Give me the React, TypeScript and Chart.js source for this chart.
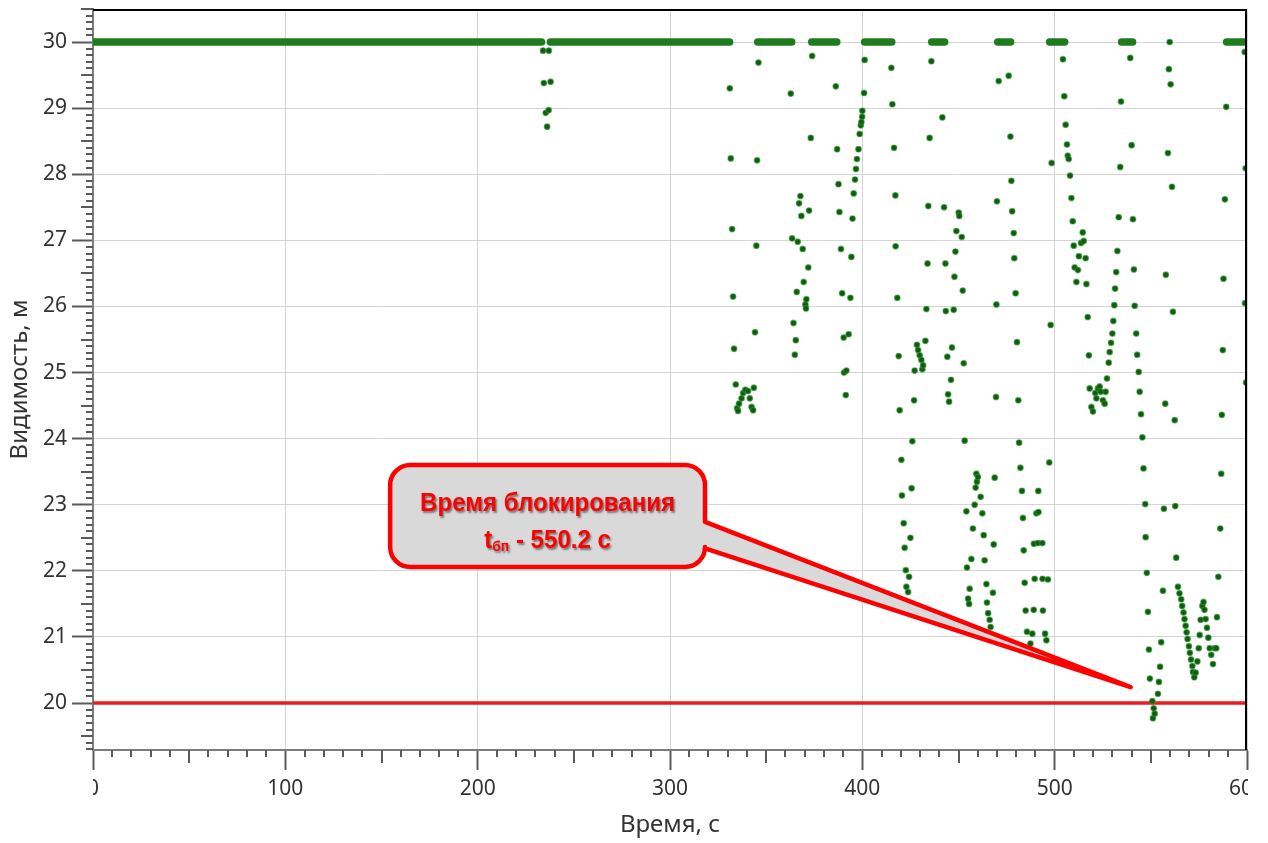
import React, { useEffect, useRef } from 'react';
import { Chart, registerables } from 'chart.js';

Chart.register(...registerables);

// ---------- data ----------
const xTickValues = [0, 100, 200, 300, 400, 500, 600];
const xTickLabels = ['0', '100', '200', '300', '400', '500', '600'];
const yTickValues = [20, 21, 22, 23, 24, 25, 26, 27, 28, 29, 30];
const yTickLabels = ['20', '21', '22', '23', '24', '25', '26', '27', '28', '29', '30'];

const xTitle = 'Время, с';
const yTitle = 'Видимость, м';

// stretches of time where the visibility stays at the 30 m ceiling
const plateauStart = [0, 237.8, 345.6, 373.7, 401.2, 436.1, 470.4, 497.4, 534.8, 589.4];
const plateauEnd = [233.2, 331.0, 363.3, 386.7, 415.3, 442.8, 477.1, 505.2, 540.5, 600];
const plateauLevel = 30;

// critical visibility threshold
const thresholdTime = [0, 600];
const thresholdLevel = [20, 20];

// individual samples
const sampleTime = [
  234.0, 237.0, 234.4, 237.9, 235.4, 236.9, 236.1,
  331.1, 331.6, 332.3, 332.8, 333.3, 334.2, 334.9, 335.4, 335.9, 337.2, 338.0, 339.2, 340.6, 341.5, 342.4, 343.2, 343.6, 344.2, 344.9, 345.3, 346.0,
  362.8, 363.5, 364.2, 364.9, 365.4, 365.9, 366.4, 367.1, 367.8, 368.3, 369.0, 369.5, 370.4, 370.7, 370.9, 371.9, 372.3, 373.2, 373.9,
  386.2, 386.9, 387.6, 388.1, 388.9, 389.5, 390.3, 390.5, 391.4, 391.7, 392.9, 393.8, 394.3, 394.9, 395.5, 396.2, 396.7, 397.2, 398.0, 398.6, 399.2, 399.5, 399.9, 400.0, 400.9, 401.2,
  415.1, 415.6, 416.5, 417.2, 417.3, 418.2, 418.9, 419.4, 420.3, 420.6, 421.5, 422.0, 422.6, 422.9, 423.8, 424.3, 425.0, 425.6, 426.0, 426.9,
  427.2, 428.4, 429.0, 429.8, 430.7, 431.2, 431.6, 432.8, 433.3, 433.9, 434.3, 435.0, 435.9,
  441.6, 442.5, 443.2, 443.4, 444.2, 444.6, 445.1, 446.1, 446.6, 447.5, 447.9, 448.4, 448.9, 450.1, 450.4, 451.7, 452.2, 452.7, 453.2,
  454.1, 454.4, 455.0, 455.5, 455.8, 456.7, 457.5, 458.4, 458.9, 459.3, 459.6, 460.1, 461.5, 462.4, 463.1, 463.6, 464.5, 464.8, 465.4, 466.2, 466.7,
  467.9, 468.3, 468.8, 469.5, 469.7, 470.0, 470.9,
  476.1, 477.0, 477.5, 477.9, 478.7, 479.0, 479.7, 480.4, 481.1, 481.5, 482.2, 483.0, 483.5, 483.9, 484.4, 484.9, 485.6, 487.4, 488.4,
  489.1, 489.2, 489.6, 490.5, 491.3, 491.5, 491.6, 493.6, 493.7, 493.9, 495.0, 495.7, 496.5, 497.2, 497.9, 498.4,
  504.3, 505.0, 505.7, 506.4, 506.8, 507.3, 508.0, 508.7, 509.4, 509.9, 510.4, 511.3, 512.1, 512.6, 513.7, 514.6, 515.1, 516.1, 516.5, 517.2, 517.8,
  518.2, 519.1, 519.9, 521.1, 521.7, 522.5, 523.4, 524.0, 525.1, 526.0, 526.5,
  527.2, 528.1, 528.6, 529.3, 530.0, 530.5, 531.0, 531.4, 532.0, 532.6, 533.3, 534.1, 534.5,
  539.3, 540.0, 540.7, 541.2, 541.6, 542.4, 542.9, 543.7, 544.2, 544.9, 545.6, 546.2, 547.1, 547.3, 547.9, 548.5, 549.0, 549.5,
  550.8, 551.1, 551.5, 552.0, 553.7, 554.2, 554.8, 555.4, 556.3, 556.8, 557.5, 557.8, 558.9, 559.4, 559.8, 560.3, 561.0, 561.5, 562.4, 562.7, 563.2,
  564.1, 564.9, 565.8, 566.3, 567.0, 567.5, 568.1, 568.6, 569.1, 569.8, 570.3, 570.9, 571.6, 571.9, 572.6, 573.3, 574.2, 574.9, 575.4, 575.9,
  576.8, 577.4, 577.9, 578.5, 579.2, 579.9, 580.6, 581.4, 582.3, 583.2, 584.0, 584.4, 585.1, 586.1, 586.6, 586.9, 587.4, 587.8, 588.5, 589.2,
  598.8, 599.0, 599.3, 599.5,
];
const sampleVisibility = [
  29.87, 29.87, 29.38, 29.40, 28.93, 28.97, 28.72,
  29.30, 28.24, 27.17, 26.15, 25.36, 24.82, 24.46, 24.42, 24.53, 24.61, 24.69, 24.74, 24.72, 24.61, 24.48, 24.43, 24.77, 25.61, 26.92, 28.21, 29.69,
  29.22, 27.03, 25.75, 25.27, 25.49, 26.22, 26.98, 27.56, 27.67, 27.37, 26.87, 26.37, 26.03, 25.97, 26.11, 26.59, 27.45, 28.55, 29.79,
  29.33, 28.38, 27.85, 27.43, 26.87, 26.20, 25.53, 25.00, 24.66, 25.03, 25.58, 26.13, 26.75, 27.33, 27.71, 27.92, 28.08, 28.23, 28.38, 28.61, 28.74, 28.79, 28.87, 28.96, 29.23, 29.73,
  29.61, 29.06, 28.40, 27.68, 26.91, 26.13, 25.25, 24.43, 23.68, 23.14, 22.72, 22.35, 22.01, 21.76, 21.68, 21.91, 22.50, 23.25, 23.96, 24.58,
  25.03, 25.42, 25.34, 25.26, 25.19, 25.05, 25.11, 25.48, 25.96, 26.65, 27.52, 28.55, 29.71,
  28.86, 27.50, 26.65, 25.93, 25.24, 24.67, 24.56, 24.89, 25.38, 25.95, 26.45, 26.83, 27.14, 27.42, 27.37, 27.05, 26.24, 25.14, 23.97,
  22.90, 22.05, 21.58, 21.50, 21.73, 22.18, 22.64, 23.00, 23.26, 23.47, 23.35, 23.42, 23.12, 22.87, 22.54, 22.16, 21.80, 21.52, 21.36, 21.26, 21.15,
  21.67, 22.40, 23.41, 24.63, 26.03, 27.59, 29.41,
  29.49, 28.57, 27.90, 27.44, 27.11, 26.73, 26.20, 25.46, 24.58, 23.94, 23.56, 23.21, 22.80, 22.31, 21.82, 21.40, 21.08, 20.90, 21.05,
  21.41, 22.41, 21.88, 22.87, 22.42, 23.21, 22.89, 22.42, 21.88, 21.40, 21.05, 20.95, 21.87, 23.64, 25.72, 28.17,
  29.74, 29.18, 28.75, 28.45, 28.28, 28.23, 27.98, 27.64, 27.29, 26.92, 26.59, 26.37, 26.55, 26.76, 26.96, 27.12, 26.99, 26.73, 26.34, 25.84, 25.26,
  24.76, 24.48, 24.41, 24.69, 24.61, 24.76, 24.79, 24.71, 24.58, 24.53, 24.71,
  24.91, 25.15, 25.31, 25.45, 25.59, 25.78, 26.02, 26.27, 26.52, 26.84, 27.35, 28.11, 29.10,
  29.76, 28.44, 27.32, 26.56, 26.01, 25.59, 25.27, 25.01, 24.71, 24.37, 24.02, 23.55, 23.01, 22.51, 21.97, 21.38, 20.81, 20.37,
  20.03, 19.77, 19.92, 19.84, 20.14, 20.32, 20.55, 20.92, 21.70, 22.94, 24.53, 26.48, 28.32, 29.59, 30.00, 29.36, 27.81, 25.92, 24.28, 22.98, 22.20,
  21.76, 21.66, 21.57, 21.47, 21.37, 21.27, 21.17, 21.07, 20.97, 20.86, 20.76, 20.66, 20.56, 20.47, 20.39, 20.46, 20.63, 20.83, 21.03, 21.26,
  21.47, 21.53, 21.41, 21.27, 21.14, 20.99, 20.83, 20.73, 20.59, 20.83, 20.83, 21.30, 21.91, 22.64, 23.47, 24.36, 25.34, 26.42, 27.62, 29.02,
  29.85, 26.05, 28.09, 24.85,
];

// callout
const calloutLine1 = 'Время блокирования';
const calloutSymbol = 't';
const calloutSubscript = 'бп';
const calloutRest = ' - 550.2 с';
const calloutTip = [539.5, 20.24]; // [time, visibility] the pointer aims at

// ---------- styling / layout ----------
const UI_FONT = '"Noto Sans", "Open Sans", "DejaVu Sans", sans-serif';
const CALLOUT_FONT = '"Liberation Sans Narrow", "Arial Narrow", "Liberation Sans", Arial, sans-serif';
const CALLOUT_BOX = { t0: 154.5, t1: 318.2, vTop: 23.60, vBottom: 22.06, vTailTop: 22.74, vTailBottom: 22.34 };

const decorPlugin = {
  id: 'decor',
  afterDraw(chart: any) {
    const { ctx, chartArea: a } = chart;
    const x = chart.scales.x;
    const y = chart.scales.y;
    ctx.save();

    // top / right frame
    ctx.strokeStyle = '#000';
    ctx.lineWidth = 2;
    ctx.beginPath();
    ctx.moveTo(a.left, a.top + 1);
    ctx.lineTo(a.right - 1, a.top + 1);
    ctx.lineTo(a.right - 1, a.bottom);
    ctx.stroke();

    // minor ticks
    ctx.strokeStyle = '#5a5a5a';
    ctx.lineWidth = 2;
    ctx.beginPath();
    for (let k = 1; k < 60; k++) {
      if (k % 10 === 0) continue;
      const px = Math.round(x.getPixelForValue(k * 10));
      const len = k % 5 === 0 ? 13 : 7;
      ctx.moveTo(px, a.bottom);
      ctx.lineTo(px, a.bottom + len);
    }
    const vMin = Math.ceil(y.min * 10);
    const vMax = Math.floor(y.max * 10);
    for (let k = vMin; k <= vMax; k++) {
      if (k % 10 === 0) continue;
      const py = Math.round(y.getPixelForValue(k / 10));
      const len = k % 5 === 0 ? 12 : 7;
      ctx.moveTo(a.left - len, py);
      ctx.lineTo(a.left, py);
    }
    ctx.stroke();

    // x tick labels (clipped to plot width like the original)
    ctx.save();
    ctx.beginPath();
    ctx.rect(a.left, a.bottom, a.right - a.left + 1, 200);
    ctx.clip();
    ctx.fillStyle = '#333';
    ctx.font = `21px ${UI_FONT}`;
    ctx.textAlign = 'center';
    ctx.textBaseline = 'middle';
    xTickValues.forEach((v, i) => {
      ctx.fillText(xTickLabels[i], x.getPixelForValue(v), a.bottom + 39);
    });
    ctx.restore();

    // axis titles
    ctx.fillStyle = '#333';
    ctx.font = `24px ${UI_FONT}`;
    ctx.textAlign = 'center';
    ctx.textBaseline = 'middle';
    ctx.fillText(xTitle, (a.left + a.right) / 2, a.bottom + 75);
    ctx.save();
    ctx.translate(20, (a.top + a.bottom) / 2);
    ctx.rotate(-Math.PI / 2);
    ctx.fillText(yTitle, 0, 0);
    ctx.restore();

    // callout
    const L = x.getPixelForValue(CALLOUT_BOX.t0);
    const R = x.getPixelForValue(CALLOUT_BOX.t1);
    const T = y.getPixelForValue(CALLOUT_BOX.vTop);
    const B = y.getPixelForValue(CALLOUT_BOX.vBottom);
    const bt = y.getPixelForValue(CALLOUT_BOX.vTailTop);
    const bb = y.getPixelForValue(CALLOUT_BOX.vTailBottom);
    const tx = x.getPixelForValue(calloutTip[0]);
    const ty = y.getPixelForValue(calloutTip[1]);
    const r = 20;
    ctx.beginPath();
    ctx.moveTo(L + r, T);
    ctx.lineTo(R - r, T);
    ctx.arcTo(R, T, R, T + r, r);
    ctx.lineTo(R, bt);
    ctx.lineTo(tx, ty);
    ctx.lineTo(R, bb);
    ctx.lineTo(R, B - r);
    ctx.arcTo(R, B, R - r, B, r);
    ctx.lineTo(L + r, B);
    ctx.arcTo(L, B, L, B - r, r);
    ctx.lineTo(L, T + r);
    ctx.arcTo(L, T, L + r, T, r);
    ctx.closePath();
    ctx.fillStyle = '#d9d9d9';
    ctx.fill();
    ctx.lineWidth = 4.5;
    ctx.lineJoin = 'round';
    ctx.strokeStyle = '#ff0000';
    ctx.stroke();

    // callout text
    const cx = (L + R) / 2;
    ctx.fillStyle = '#ff0000';
    ctx.shadowColor = 'rgba(0,0,0,0.45)';
    ctx.shadowOffsetX = 1.5;
    ctx.shadowOffsetY = 1.5;
    ctx.shadowBlur = 2;
    ctx.textBaseline = 'alphabetic';
    const big = `bold 26px ${CALLOUT_FONT}`;
    const small = `bold 15px ${CALLOUT_FONT}`;
    ctx.font = big;
    const w1 = ctx.measureText(calloutLine1).width;
    const sx = 255 / w1;
    ctx.save();
    ctx.translate(cx, 0);
    ctx.scale(sx, 1);
    ctx.textAlign = 'center';
    ctx.fillText(calloutLine1, 0, T + 46);
    // line 2
    ctx.textAlign = 'left';
    ctx.font = big;
    const wt = ctx.measureText(calloutSymbol).width;
    const wr = ctx.measureText(calloutRest).width;
    ctx.font = small;
    const ws = ctx.measureText(calloutSubscript).width;
    const total = wt + ws + wr;
    let px = -total / 2;
    const base2 = T + 83;
    ctx.font = big;
    ctx.fillText(calloutSymbol, px, base2);
    px += wt;
    ctx.font = small;
    ctx.fillText(calloutSubscript, px, base2 + 3);
    px += ws;
    ctx.font = big;
    ctx.fillText(calloutRest, px, base2);
    ctx.restore();

    ctx.restore();
  },
};

export default function App() {
  const ref = useRef<HTMLCanvasElement>(null);

  useEffect(() => {
    const canvas = ref.current;
    if (!canvas) return;

    const samples = sampleTime.map((t, i) => ({ x: t, y: sampleVisibility[i] }));
    const plateauSets = plateauStart.map((s, i) => ({
      type: 'line' as const,
      data: [
        { x: s, y: plateauLevel },
        { x: plateauEnd[i], y: plateauLevel },
      ],
      borderColor: '#1e7c1e',
      backgroundColor: '#1e7c1e',
      borderWidth: 7.5,
      borderCapStyle: 'round' as const,
      pointRadius: 0,
      showLine: true,
      clip: 0,
      order: 1,
    }));

    const chart = new Chart(canvas, {
      type: 'scatter',
      data: {
        datasets: [
          {
            type: 'scatter',
            data: samples,
            backgroundColor: '#135a13',
            borderColor: 'rgba(40,150,40,0.6)',
            borderWidth: 1.2,
            pointRadius: 2.8,
            order: 0,
          } as any,
          ...plateauSets,
          {
            type: 'line',
            data: thresholdTime.map((t, i) => ({ x: t, y: thresholdLevel[i] })),
            borderColor: 'rgb(238,26,30)',
            borderWidth: 3.5,
            pointRadius: 0,
            showLine: true,
            clip: 0,
            order: 2,
          } as any,
        ],
      },
      options: {
        animation: false,
        responsive: false,
        devicePixelRatio: 1,
        layout: { padding: { top: 9, right: 21, left: 0, bottom: 0 } },
        plugins: { legend: { display: false }, tooltip: { enabled: false } },
        events: [],
        scales: {
          x: {
            type: 'linear',
            min: 0,
            max: 600,
            ticks: { display: false, stepSize: 100 },
            afterBuildTicks: (s: any) => {
              s.ticks = xTickValues.map((v) => ({ value: v }));
            },
            grid: {
              color: '#d4d4d4',
              lineWidth: 1,
              drawTicks: true,
              tickLength: 20,
              tickColor: '#5a5a5a',
              tickWidth: 2,
            },
            border: { display: true, color: '#7d7d7d', width: 2 },
            afterFit: (s: any) => {
              s.height = 93;
              s.paddingLeft = 0;
              s.paddingRight = 0;
            },
          },
          y: {
            type: 'linear',
            min: 19.29,
            max: 30.5,
            afterBuildTicks: (s: any) => {
              s.ticks = yTickValues.map((v) => ({ value: v }));
            },
            ticks: {
              color: '#333',
              font: { family: UI_FONT, size: 21 },
              padding: 5,
              callback: (v: any) => {
                const i = yTickValues.indexOf(Number(v));
                return i >= 0 ? yTickLabels[i] : '';
              },
            },
            grid: {
              color: '#d4d4d4',
              lineWidth: 1,
              drawTicks: true,
              tickLength: 21,
              tickColor: '#5a5a5a',
              tickWidth: 2,
            },
            border: { display: true, color: '#7d7d7d', width: 2 },
            afterFit: (s: any) => {
              s.width = 93;
              s.paddingTop = 0;
              s.paddingBottom = 0;
            },
          },
        },
      },
      plugins: [decorPlugin],
    });

    return () => chart.destroy();
  }, []);

  return (
    <div style={{ position: 'absolute', left: 0, top: 0, width: 1268, height: 843, background: '#fff' }}>
      <canvas ref={ref} width={1268} height={843} style={{ display: 'block' }} />
    </div>
  );
}
